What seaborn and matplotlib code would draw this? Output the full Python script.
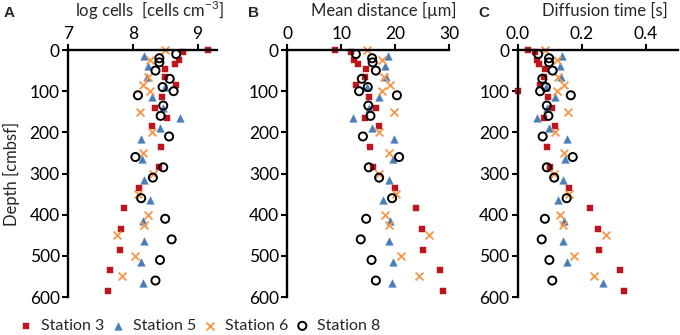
import matplotlib
matplotlib.use('Agg')
import matplotlib.pyplot as plt
import pandas as pd
import seaborn as sns

# Depths [cmbsf] of each station's samples
st3_depth = [0, 5, 25, 35, 45, 65, 85, 115, 140, 165, 185, 235, 285, 335, 385, 435, 485, 535, 585]
st5_depth = [15, 40, 65, 90, 115, 140, 165, 190, 215, 265, 315, 365, 415, 465, 515, 565]
st6_depth = [0, 25, 65, 85, 100, 150, 200, 250, 300, 350, 400, 425, 450, 500, 550]
st8_depth = [10, 20, 30, 50, 70, 90, 100, 110, 135, 160, 210, 260, 285, 310, 360, 410, 460, 510, 560]

# Panel A: log cells [cells cm-3]
st3_cells = [9.16, 8.77, 8.71, 8.65, 8.50, 8.50, 8.67, 8.45, 8.35, 8.53, 8.30, 8.44, 8.40, 8.09, 7.87, 7.82, 7.80, 7.65, 7.62]
st5_cells = [8.18, 8.24, 8.22, 8.50, 8.30, 8.46, 8.73, 8.42, 8.12, 8.14, 8.17, 8.26, 8.15, 8.17, 8.12, 8.15]
st6_cells = [8.50, 8.27, 8.24, 8.16, 8.27, 8.11, 8.30, 8.16, 8.31, 8.08, 8.23, 8.17, 7.75, 8.03, 7.84]
st8_cells = [8.67, 8.41, 8.41, 8.35, 8.57, 8.46, 8.63, 8.08, 8.47, 8.43, 8.56, 8.04, 8.47, 8.31, 8.13, 8.50, 8.60, 8.42, 8.35]

# Panel B: mean distance [um]
st3_dist = [8.8, 11.8, 12.4, 13.0, 14.6, 14.4, 12.8, 15.2, 16.4, 14.4, 17.0, 15.3, 15.8, 19.9, 23.8, 24.9, 25.1, 28.3, 28.8]
st5_dist = [18.6, 18.1, 18.3, 14.8, 17.0, 15.2, 12.2, 15.6, 19.8, 19.5, 18.9, 17.7, 19.1, 18.9, 19.6, 19.3]
st6_dist = [14.7, 17.5, 17.9, 19.0, 17.6, 19.8, 17.0, 18.9, 16.9, 20.1, 18.1, 18.8, 26.2, 21.0, 24.4]
st8_dist = [12.7, 15.7, 15.8, 16.4, 13.8, 14.9, 13.3, 20.3, 15.0, 15.4, 14.0, 20.7, 15.1, 17.0, 19.4, 14.6, 13.6, 15.6, 16.4]

# Panel C: diffusion time [s]
st3_time = [0.031, 0.054, 0.060, 0.066, 0.085, 0.083, 0.070, 0.094, 0.108, 0.082, 0.117, 0.093, 0.101, 0.160, 0.226, 0.250, 0.254, 0.320, 0.333]
st5_time = [0.139, 0.132, 0.134, 0.088, 0.117, 0.092, 0.059, 0.098, 0.155, 0.149, 0.143, 0.127, 0.146, 0.143, 0.153, 0.267]
st6_time = [0.085, 0.122, 0.127, 0.146, 0.122, 0.158, 0.117, 0.146, 0.113, 0.161, 0.132, 0.143, 0.276, 0.177, 0.239]
st8_time = [0.064, 0.098, 0.098, 0.109, 0.077, 0.088, 0.070, 0.166, 0.091, 0.096, 0.078, 0.172, 0.091, 0.114, 0.153, 0.085, 0.075, 0.099, 0.108]
# stray station 3 point drawn on the axis of panel C
st3_time_extra_depth = [100]
st3_time_extra = [0.0]

stations = ['Station 3', 'Station 5', 'Station 6', 'Station 8']
y_ticks = [0, 100, 200, 300, 400, 500, 600]

styles = {
    'Station 3': dict(marker='s', s=24, face='#C0141C', edge='#C0141C', lw=0.3),
    'Station 5': dict(marker='^', s=30, face='#4A7EBB', edge='#4A7EBB', lw=0.3),
    'Station 6': dict(marker='x', s=32, face='#F79646', edge='#F79646', lw=1.3),
    'Station 8': dict(marker='o', s=34, face='none', edge='black', lw=1.4),
}

frames = []
for name, dep, a, b, c in zip(stations,
                              [st3_depth, st5_depth, st6_depth, st8_depth],
                              [st3_cells, st5_cells, st6_cells, st8_cells],
                              [st3_dist, st5_dist, st6_dist, st8_dist],
                              [st3_time, st5_time, st6_time, st8_time]):
    frames.append(pd.DataFrame({'station': name, 'depth': dep, 'cells': a, 'dist': b, 'time': c}))
data = pd.concat(frames, ignore_index=True)
extra = pd.DataFrame({'station': 'Station 3', 'depth': st3_time_extra_depth, 'time': st3_time_extra})

sns.set_style('ticks')
plt.rcParams['font.family'] = ['Lato', 'DejaVu Sans']
plt.rcParams['mathtext.fontset'] = 'custom'
plt.rcParams['mathtext.rm'] = 'Lato'

fig = plt.figure(figsize=(6.8, 3.35), dpi=100)

panels = [
    ('cells', r'log cells  [cells cm$^{-3}$]', (7, 9.3), [7, 8, 9], ['7', '8', '9'],
     [68, 149], 0.545, 'A', 4),
    ('dist', 'Mean distance [µm]', (0, 30), [0, 10, 20, 30], ['0', '10', '20', '30'],
     [287.3, 162], 0.597, 'B', 248),
    ('time', 'Diffusion time [s]', (0, 0.5), [0.0, 0.2, 0.4], ['0.0', '0.2', '0.4'],
     [517.7, 160], 0.546, 'C', 478),
]


def style_points(coll, st):
    coll.set_facecolor(st['face'])
    coll.set_edgecolor(st['edge'])
    coll.set_linewidth(st['lw'])
    coll.set_clip_on(False)


W, H = 680, 335
top, bottom = 50, 297
axes = []
for col, title, xlim, xt, xtl, (left, width), tx, letter, lx in panels:
    ax = fig.add_axes([left / W, 1 - bottom / H, width / W, (bottom - top) / H])
    for name in stations:
        st = styles[name]
        sub = data[data.station == name]
        sns.scatterplot(x=col, y='depth', data=sub, ax=ax, marker=st['marker'],
                        s=st['s'], label=name, legend=False)
        style_points(ax.collections[-1], st)
        if col == 'time' and name == 'Station 3':
            sns.scatterplot(x='time', y='depth', data=extra, ax=ax, marker='s',
                            s=st['s'], legend=False)
            style_points(ax.collections[-1], st)
    ax.set_xlim(*xlim)
    ax.set_ylim(600, 0)
    ax.set_xticks(xt)
    ax.set_xticklabels(xtl)
    ax.set_yticks(y_ticks)
    ax.xaxis.tick_top()
    ax.spines['right'].set_visible(False)
    ax.spines['bottom'].set_visible(False)
    for sp in ['left', 'top']:
        ax.spines[sp].set_linewidth(1.7)
        ax.spines[sp].set_color('black')
    ax.tick_params(axis='both', direction='out', length=4, width=1.5, color='black',
                   labelsize=12.5, pad=2, labelcolor='black')
    ax.set_xlabel('')
    ax.set_ylabel('')
    ax.text(tx, 1.16, title, transform=ax.transAxes, ha='center', va='center', fontsize=12)
    fig.text(lx / W, 1 - 13 / H, letter, fontsize=11, fontweight='bold',
             family='Liberation Sans', va='center', ha='left')
    axes.append(ax)

axes[0].set_ylabel('Depth [cmbsf]', fontsize=12)
axes[0].yaxis.set_label_coords(-0.32, 0.5)

handles, labels = axes[0].get_legend_handles_labels()
fig.legend(handles, labels, ncol=4, loc='center left', bbox_to_anchor=(0.015, 0.027),
           frameon=False, fontsize=11.5, handlelength=1.0, handletextpad=0.4,
           columnspacing=0.4, borderpad=0, scatterpoints=1)

fig.savefig('out.png', dpi=100)
